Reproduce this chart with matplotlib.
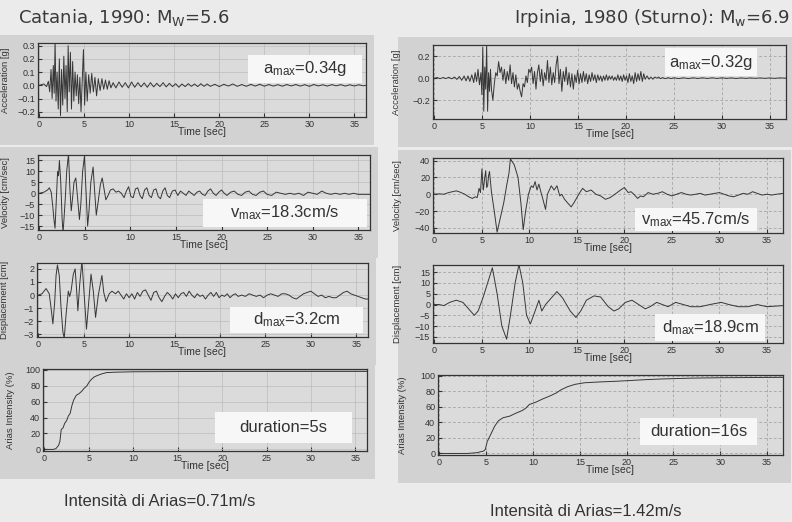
import numpy as np
import matplotlib
matplotlib.use("Agg")
from matplotlib import pyplot as plt
from matplotlib.patches import Rectangle

# Catania 1990 records (time [s], value)
cat_acc = [(0.0, 0.0), (0.5, 0.01), (0.8, -0.01), (1.0, 0.03), (1.15, -0.05), (1.3, 0.12), (1.42, -0.1),
           (1.55, 0.15), (1.65, -0.06), (1.75, 0.34), (1.85, -0.12), (1.97, 0.1), (2.1, -0.18), (2.22, 0.2),
           (2.35, -0.23), (2.47, 0.12), (2.6, -0.15), (2.72, 0.22), (2.85, -0.1), (2.97, 0.15), (3.1, -0.2),
           (3.2, 0.3), (3.32, -0.05), (3.45, 0.25), (3.57, -0.18), (3.7, 0.18), (3.83, -0.12), (3.97, 0.1),
           (4.1, -0.08), (4.23, 0.08), (4.37, -0.14), (4.5, 0.06), (4.63, -0.2), (4.9, 0.27), (5.03, -0.15),
           (5.17, 0.1), (5.32, -0.12), (5.48, 0.08), (5.65, -0.06), (5.82, 0.09), (6.0, -0.05), (6.18, 0.06),
           (6.36, -0.08), (6.55, 0.05), (6.75, -0.04), (6.95, 0.05), (7.15, -0.03), (7.35, 0.04), (7.55, -0.03),
           (7.75, 0.035), (7.95, -0.02), (8.2, 0.02), (8.5, -0.02), (8.85, 0.025), (9.2, -0.015), (9.55, 0.02),
           (9.9, -0.02), (10.25, 0.025), (10.6, -0.015), (10.95, 0.02), (11.3, -0.012), (11.65, 0.018),
           (12.0, -0.015), (12.35, 0.02), (12.7, -0.012), (13.05, 0.015), (13.4, -0.01), (13.75, 0.02),
           (14.1, -0.012), (14.45, 0.015), (14.8, -0.01), (15.15, 0.012), (15.5, -0.015), (15.85, 0.01),
           (16.2, -0.01), (16.55, 0.012), (16.9, -0.008), (17.25, 0.01), (17.6, -0.01), (17.95, 0.012),
           (18.3, -0.008), (18.65, 0.01), (19.0, -0.008), (19.5, 0.008), (20.0, -0.01), (20.5, 0.008),
           (21.0, -0.006), (21.5, 0.01), (22.0, -0.008), (22.5, 0.006), (23.0, -0.008), (23.5, 0.007),
           (24.0, -0.006), (24.5, 0.008), (25.0, -0.007), (25.5, 0.006), (26.0, -0.006), (26.5, 0.005),
           (27.0, -0.007), (27.5, 0.006), (28.0, -0.005), (28.5, 0.006), (29.0, -0.006), (29.5, 0.005),
           (30.0, -0.008), (30.5, 0.006), (31.0, -0.005), (31.5, 0.004), (32.0, -0.006), (32.5, 0.005),
           (33.0, -0.004), (33.5, 0.005), (34.0, -0.006), (34.5, 0.004), (35.0, -0.005), (35.5, 0.004),
           (36.0, -0.004), (36.3, 0.0)]

cat_vel = [(0, 0), (0.5, 0.5), (0.9, 1.5), (1.1, 2.5), (1.3, 0.5), (1.45, -5), (1.6, -12), (1.72, -16),
           (1.85, -4), (2.0, 10), (2.1, 8), (2.2, 15), (2.35, 5), (2.5, -12), (2.6, -18), (2.7, -12),
           (2.85, -2), (3.0, 10), (3.1, 14), (3.2, 18), (3.35, 2), (3.5, -8), (3.65, -2), (3.8, 5), (4.0, 7),
           (4.15, 0), (4.4, -12), (4.55, -5), (4.75, 10), (4.95, 17), (5.1, 3), (5.3, -15), (5.45, -8),
           (5.65, 5), (5.9, 12), (6.05, 2), (6.25, -10), (6.45, -4), (6.7, 4), (6.9, 7), (7.1, 2), (7.3, -3),
           (7.55, -1), (7.8, 1.5), (8.1, 2), (8.4, 0.5), (8.7, 1), (9.0, 0), (9.3, -2), (9.55, 1), (9.8, 3),
           (10.05, -1.5), (10.3, -2), (10.55, 2), (10.8, 2.5), (11.05, -1), (11.3, -2.5), (11.55, 1.5),
           (11.8, 2.5), (12.05, -1), (12.3, -2), (12.55, 1.5), (12.8, 2), (13.05, -1.5), (13.3, -2.5),
           (13.55, 1), (13.8, 2.5), (14.05, -1), (14.3, -2), (14.6, 1), (14.9, 1.5), (15.2, -1), (15.5, 1),
           (15.8, 0), (16.1, -1), (16.4, 1), (16.7, 0), (17.0, -1), (17.3, 0.5), (17.6, 1), (17.9, -0.5),
           (18.2, -1), (18.5, 1), (18.8, 2), (19.1, 0), (19.4, -1), (19.7, 0.5), (20.0, 1.5), (20.3, 0),
           (20.6, -1), (21.0, 0.5), (21.4, 1), (21.8, -0.5), (22.2, -1), (22.6, 0.5), (23.0, 1), (23.4, -0.5),
           (23.8, -1), (24.2, 0.5), (24.6, 1), (25.0, -0.5), (25.5, -1), (26.0, 0.5), (26.5, 0), (27.0, -0.5),
           (27.5, 0), (28.0, -0.5), (28.5, 0), (29.0, -1), (29.5, 0.5), (30.0, 0), (30.5, -0.5), (31.0, 1),
           (31.5, 0), (32.0, -0.5), (32.5, 0), (33.0, -0.5), (33.5, 0), (34.0, -0.5), (34.5, 0), (35.0, -0.5),
           (35.5, -0.5), (36.3, -0.5)]

cat_dis = [(0, 0), (0.4, 0.1), (0.85, 0.5), (1.2, 0.1), (1.4, -1), (1.6, -2.2), (1.8, -0.5), (1.95, 1.5),
           (2.1, 2.3), (2.3, 1.5), (2.5, -1), (2.7, -2.8), (2.85, -3.3), (3.05, -1.5), (3.3, 0.3), (3.45, -0.1),
           (3.6, 0.3), (3.85, 1.6), (4.05, 2.0), (4.2, 0.5), (4.35, -1.2), (4.55, 0.8), (4.8, 2.6), (5.0, 0.5),
           (5.3, -2.6), (5.55, -0.5), (5.8, 1.6), (6.05, 0.3), (6.3, -1.7), (6.6, 0), (7.0, 1.5), (7.2, 0.2),
           (7.45, -0.5), (7.8, 0.1), (8.1, 0.3), (8.5, 0.1), (8.8, 0.3), (9.1, 0), (9.4, -0.3), (9.7, 0.1),
           (10.0, -0.2), (10.3, 0.1), (10.6, -0.3), (10.9, 0.2), (11.2, -0.1), (11.5, 0.3), (11.8, 0.4),
           (12.1, 0), (12.4, -0.4), (12.7, 0.2), (13.0, 0.3), (13.3, -0.2), (13.6, -0.5), (13.9, -0.1),
           (14.2, 0.2), (14.5, 0), (14.8, -0.3), (15.1, 0.1), (15.4, -0.2), (15.7, 0.1), (16.0, 0.2),
           (16.3, -0.1), (16.6, 0.3), (16.9, 0), (17.2, -0.2), (17.5, 0.1), (17.8, -0.1), (18.1, 0),
           (18.4, -0.3), (18.7, 0), (19.0, 0.2), (19.3, -0.1), (19.6, 0.2), (19.9, -0.2), (20.2, 0),
           (20.5, -0.1), (20.8, 0.1), (21.1, -0.2), (21.4, 0), (21.7, 0.1), (22.0, -0.1), (22.4, 0),
           (22.8, -0.1), (23.2, 0.1), (23.6, 0), (24.0, -0.1), (24.4, 0), (24.8, -0.2), (25.2, 0), (25.6, 0.1),
           (26.0, 0), (26.4, -0.1), (26.8, 0.1), (27.2, 0.1), (27.6, 0), (28.0, -0.2), (28.4, -0.3),
           (28.8, -0.1), (29.2, 0.1), (29.6, 0.2), (30.0, 0.3), (30.4, 0.1), (30.8, -0.1), (31.2, 0),
           (31.6, -0.2), (32.0, -0.1), (32.4, -0.2), (32.8, -0.2), (33.2, 0), (33.6, 0.2), (34.0, 0.3),
           (34.4, 0.1), (34.8, 0), (35.2, -0.1), (35.6, -0.2), (36.0, -0.3), (36.3, -0.3)]

cat_arias = [(0, 0), (1.0, 0), (1.3, 1), (1.6, 5), (1.75, 10), (1.9, 25), (2.1, 27), (2.3, 33), (2.5, 36),
             (2.7, 42), (2.9, 45), (3.1, 55), (3.3, 62), (3.6, 68), (3.9, 70), (4.2, 73), (4.5, 77), (4.8, 80),
             (5.0, 84), (5.3, 88), (5.6, 91), (6.0, 93), (6.5, 95), (7.0, 96.5), (8.0, 97), (10, 97.5),
             (15, 97.8), (20, 98), (25, 98), (30, 98), (36.3, 98)]

# Irpinia 1980 (Sturno) records
irp_acc = [(0, 0), (0.3, 0.005), (0.6, -0.005), (0.9, 0.006), (1.2, -0.004), (1.5, 0.008), (1.8, -0.006),
           (2.1, 0.01), (2.35, -0.012), (2.6, 0.015), (2.85, -0.02), (3.1, 0.02), (3.3, -0.025), (3.5, 0.02),
           (3.7, -0.03), (3.9, 0.03), (4.1, -0.04), (4.25, 0.05), (4.4, -0.03), (4.55, 0.08), (4.7, -0.06),
           (4.85, 0.05), (4.95, -0.15), (5.05, 0.28), (5.15, -0.3), (5.25, 0.1), (5.35, -0.1), (5.45, 0.3),
           (5.55, -0.3), (5.65, 0.05), (5.75, -0.12), (5.85, 0.08), (5.95, -0.1), (6.1, -0.2), (6.25, -0.05),
           (6.4, 0.05), (6.55, 0.02), (6.7, 0.15), (6.85, 0.05), (7.0, 0.1), (7.15, -0.02), (7.3, 0.08),
           (7.45, -0.05), (7.6, 0.06), (7.75, -0.02), (7.9, 0.12), (8.05, -0.05), (8.2, 0.05), (8.35, -0.08),
           (8.5, 0.03), (8.65, -0.1), (8.8, -0.05), (8.95, -0.12), (9.1, -0.17), (9.25, -0.05), (9.4, -0.08),
           (9.55, 0.02), (9.7, -0.04), (9.85, 0.08), (10.0, 0.05), (10.15, 0.1), (10.3, -0.05), (10.45, 0.06),
           (10.6, -0.1), (10.75, 0.05), (10.9, 0.12), (11.05, -0.03), (11.2, 0.08), (11.35, -0.07),
           (11.5, 0.05), (11.65, -0.02), (11.8, 0.16), (11.95, -0.04), (12.1, 0.1), (12.25, -0.06),
           (12.4, 0.05), (12.55, -0.04), (12.7, 0.12), (12.85, 0.2), (13.0, -0.05), (13.15, 0.08),
           (13.3, -0.12), (13.45, 0.06), (13.6, -0.03), (13.75, 0.1), (13.9, -0.06), (14.05, 0.05),
           (14.2, -0.08), (14.35, 0.04), (14.5, -0.1), (14.65, 0.03), (14.8, -0.04), (14.95, 0.07),
           (15.1, -0.05), (15.25, 0.04), (15.4, -0.04), (15.55, 0.06), (15.7, -0.03), (15.85, 0.04),
           (16.0, -0.05), (16.15, 0.03), (16.3, -0.03), (16.45, 0.05), (16.6, -0.02), (16.75, 0.03),
           (16.9, -0.04), (17.05, 0.03), (17.2, -0.02), (17.35, 0.02), (17.5, -0.03), (17.65, 0.02),
           (17.8, -0.02), (17.95, 0.03), (18.1, -0.02), (18.25, 0.02), (18.4, -0.01), (18.55, 0.02),
           (18.7, -0.02), (18.85, 0.01), (19.0, -0.02), (19.15, 0.03), (19.3, -0.02), (19.45, 0.02),
           (19.6, -0.03), (19.75, 0.03), (19.9, -0.02), (20.05, 0.02), (20.2, -0.04), (20.35, 0.04),
           (20.5, -0.03), (20.65, 0.02), (20.8, -0.05), (20.95, 0.05), (21.1, -0.03), (21.25, 0.04),
           (21.4, -0.02), (21.55, 0.06), (21.7, -0.03), (21.85, 0.04), (22.0, -0.01), (22.2, 0.02),
           (22.4, -0.01), (22.6, 0.01), (22.8, -0.01), (23.0, 0.01), (23.2, 0.0), (23.4, 0.01), (23.6, -0.005),
           (23.8, 0.005), (24.1, -0.005), (24.4, 0.004), (24.7, -0.004), (25.0, 0.003), (25.5, -0.004),
           (26.0, 0.003), (26.5, -0.004), (27.0, 0.003), (27.5, -0.003), (28.0, 0.003), (28.5, -0.003),
           (29.0, 0.003), (29.5, -0.003), (30.0, 0.003), (30.5, -0.002), (31.0, 0.002), (31.5, -0.003),
           (32.0, 0.002), (32.5, -0.002), (33.0, 0.002), (33.5, -0.002), (34.0, 0.002), (34.5, -0.002),
           (35.0, 0.002), (35.5, -0.002), (36.0, 0.002), (36.7, 0.0)]

irp_vel = [(0, 0), (0.5, 0.5), (1.0, 0), (1.5, 2), (1.9, 3), (2.3, 4), (2.7, 2.5), (3.2, 0), (3.6, -3),
           (4.0, -5), (4.3, -3), (4.5, -4), (4.7, 7), (4.85, 2), (5.0, 30), (5.1, 12), (5.15, 5), (5.3, 20),
           (5.4, 28), (5.5, 8), (5.6, 10), (5.7, 22), (5.8, 27), (5.9, 15), (6.0, 3), (6.3, -20), (6.6, -45),
           (6.9, -30), (7.3, -10), (7.6, 10), (7.85, 25), (8.0, 42), (8.4, 35), (8.8, 20), (9.1, -10),
           (9.35, -42), (9.6, -20), (9.9, 0), (10.2, 10), (10.4, 8), (10.6, 15), (10.8, 5), (11.0, 12),
           (11.2, 3), (11.4, -5), (11.7, -18), (11.9, 0), (12.1, 5), (12.3, 10), (12.6, 5), (12.9, 10),
           (13.2, -2), (13.4, 0), (13.7, -6), (14.0, -10), (14.4, -15), (14.7, -10), (15.0, -4), (15.2, 0),
           (15.6, 7), (16.0, 3), (16.5, 5), (17.0, 0), (17.5, -2), (18.0, -6), (18.5, -4), (19.0, 0),
           (19.6, 5), (20.0, 8), (20.4, 2), (20.7, 3), (21.0, 0), (21.4, -5), (21.7, -2), (22.0, -3),
           (22.5, 2), (23.0, 0), (23.5, 1), (24.0, 3), (24.5, 0), (25.0, -2), (25.5, 0), (26.0, 2),
           (26.5, 0), (27.0, -1), (27.5, 0), (28.0, 1), (28.5, -1), (29.0, 0), (29.5, 1), (30.0, 2),
           (30.5, 0), (31.0, -2), (31.5, -3), (32.0, -1), (32.5, 1), (33.0, 0), (33.5, 3), (34.0, 1),
           (34.5, -1), (35.0, 0), (35.5, -1), (36.0, 0), (36.7, 1)]

irp_dis = [(0, 0), (0.5, 0), (1.0, -0.5), (1.6, 1), (2.3, 2), (3.0, 1), (3.6, -2), (4.2, -5), (4.6, -3),
           (5.1, 3), (5.6, 10), (6.1, 17), (6.6, 5), (7.1, -10), (7.6, -16), (8.0, -5), (8.5, 10), (8.9, 18.5),
           (9.3, 10), (9.7, -5), (10.1, -9), (10.6, -3), (11.0, 2), (11.3, -3), (11.7, 0), (12.3, 3),
           (12.9, 6), (13.5, 3), (14.3, -3), (14.9, -6), (15.4, -3), (16.0, 2), (16.8, 4), (17.5, 3.5),
           (18.3, -1), (18.9, -3), (19.4, -2), (20.1, 1), (20.8, 2), (21.5, 0), (22.2, -2), (22.7, -1),
           (23.4, 1), (24.0, 0), (24.6, -1), (25.4, 1), (26.2, 0), (27.0, -1), (28.0, -1), (29.0, 0),
           (30.2, 1), (31.0, 0), (32.0, -1), (33.0, -1), (34.0, 0), (35.0, -1), (36.7, -0.5)]

irp_arias = [(0, 0), (3.0, 0), (4.0, 1), (4.7, 3), (4.9, 5), (5.1, 15), (5.5, 25), (5.9, 35), (6.3, 42),
             (6.8, 46), (7.5, 48), (8.2, 52), (8.8, 55), (9.2, 58), (9.6, 63), (10.3, 66), (11.0, 70),
             (11.8, 74), (12.5, 78), (13.0, 82), (13.7, 86), (14.5, 89), (15.5, 91), (17, 92), (19, 93),
             (20.5, 94), (22, 95), (24, 96), (27, 97), (30, 97.5), (36.7, 98)]

W, H = 792, 522
bg_fig = "#ebebeb"
bg_block = "#d2d2d2"
bg_ax = "#dbdbdb"
ink = "#363636"

plt.rcParams['font.family'] = ['Liberation Sans', 'DejaVu Sans']

fig = plt.figure(figsize=(W / 100, H / 100), dpi=100, facecolor=bg_fig)


def box(x0, y0, x1, y1):
    return [x0 / W, 1 - y1 / H, (x1 - x0) / W, (y1 - y0) / H]


def panel(pos, data, ylim, yticks, ylabel, note, note_box, xmax, dashed):
    x0, y0, x1, y1 = pos
    bx0 = 0 if x0 < 300 else 398
    fig.patches.append(Rectangle((bx0 / W, 1 - (y1 + 28) / H), (x1 + 8 - bx0) / W, (y1 - y0 + 36) / H,
                                 transform=fig.transFigure, facecolor=bg_block, edgecolor='none', zorder=-2))
    ax = fig.add_axes(box(*pos))
    ax.set_zorder(1)
    ax.set_facecolor(bg_ax)
    t = [p[0] for p in data]
    v = [p[1] for p in data]
    ax.plot(t, v, color=ink, lw=0.7)
    ax.set_xlim(-0.15, xmax)
    ax.set_ylim(*ylim)
    ax.set_xticks(range(0, 36, 5))
    ax.set_yticks(yticks)
    ax.tick_params(direction='in', length=3, labelsize=6.5, pad=2, colors='#333333')
    if dashed:
        ax.grid(True, color='#9a9a9a', lw=0.5, ls=(0, (4, 3)))
    else:
        ax.grid(True, color='#bcbcbc', lw=0.5)
    for s in ax.spines.values():
        s.set_linewidth(0.9)
        s.set_color('#333333')
    ax.set_xlabel('Time [sec]', fontsize=7.5, labelpad=-1, color='#333333')
    ax.set_ylabel(ylabel, fontsize=6.8, color='#333333')
    ax.yaxis.set_label_coords(-0.085 if x0 < 300 else -0.09, 0.5)
    nx0, ny0, nx1, ny1 = note_box
    ax.add_patch(Rectangle((nx0 / W, 1 - ny1 / H), (nx1 - nx0) / W, (ny1 - ny0) / H,
                           transform=fig.transFigure, facecolor='#f7f7f7', edgecolor='none', zorder=5))
    ax.text((nx0 + nx1) / 2 / W, 1 - (ny0 + ny1) / 2 / H, note, fontsize=12, ha='center', va='center',
            color='#333333', zorder=6, transform=fig.transFigure)
    return ax


panel((38, 43, 366, 117), cat_acc, (-0.24, 0.32), [-0.2, -0.1, 0, 0.1, 0.2, 0.3],
      'Acceleration [g]', r'$\mathregular{a_{max}}$=0.34g', (248, 55, 362, 83), 36.3, False)
panel((38, 155, 370, 230), cat_vel, (-16.8, 17.5), [-15, -10, -5, 0, 5, 10, 15],
      'Velocity [cm/sec]', r'$\mathregular{v_{max}}$=18.3cm/s', (203, 199, 367, 227), 36.3, False)
panel((37, 263, 368, 337), cat_dis, (-3.2, 2.45), [-3, -2, -1, 0, 1, 2],
      'Displacement [cm]', r'$\mathregular{d_{max}}$=3.2cm', (230, 307, 363, 333), 36.3, False)
panel((43, 369, 367, 451), cat_arias, (-2, 101), [0, 20, 40, 60, 80, 100],
      'Arias Intensity (%)', 'duration=5s', (215, 412, 352, 443), 36.3, False)

panel((433, 45, 786, 119), irp_acc, (-0.37, 0.3), [-0.2, 0, 0.2],
      'Acceleration [g]', r'$\mathregular{a_{max}}$=0.32g', (665, 48, 757, 76), 36.7, True)
panel((433, 158, 783, 233), irp_vel, (-46, 43), [-40, -20, 0, 20, 40],
      'Velocity [cm/sec]', r'$\mathregular{v_{max}}$=45.7cm/s', (635, 208, 757, 231), 36.7, True)
panel((433, 265, 783, 343), irp_dis, (-17.8, 18.3), [-15, -10, -5, 0, 5, 10, 15],
      'Displacement [cm]', r'$\mathregular{d_{max}}$=18.9cm', (655, 314, 765, 341), 36.7, True)
panel((438, 375, 783, 455), irp_arias, (-2, 101), [0, 20, 40, 60, 80, 100],
      'Arias Intensity (%)', 'duration=16s', (640, 418, 757, 445), 36.7, True)

fig.text(18 / W, 1 - 18 / H, r'Catania, 1990: M$\mathregular{_W}$=5.6', fontsize=13, family='DejaVu Sans',
         ha='left', va='center', color='#3a3a3a')
fig.text(790 / W, 1 - 18 / H, r'Irpinia, 1980 (Sturno): M$\mathregular{_w}$=6.9', fontsize=13,
         family='DejaVu Sans', ha='right', va='center', color='#3a3a3a')
fig.text(160 / W, 1 - 502 / H, 'Intensità di Arias=0.71m/s', fontsize=12, ha='center', va='center',
         color='#333333')
fig.text(586 / W, 1 - 511 / H, 'Intensità di Arias=1.42m/s', fontsize=12, ha='center', va='center',
         color='#333333')

fig.savefig('out.png', dpi=100, facecolor=bg_fig)
